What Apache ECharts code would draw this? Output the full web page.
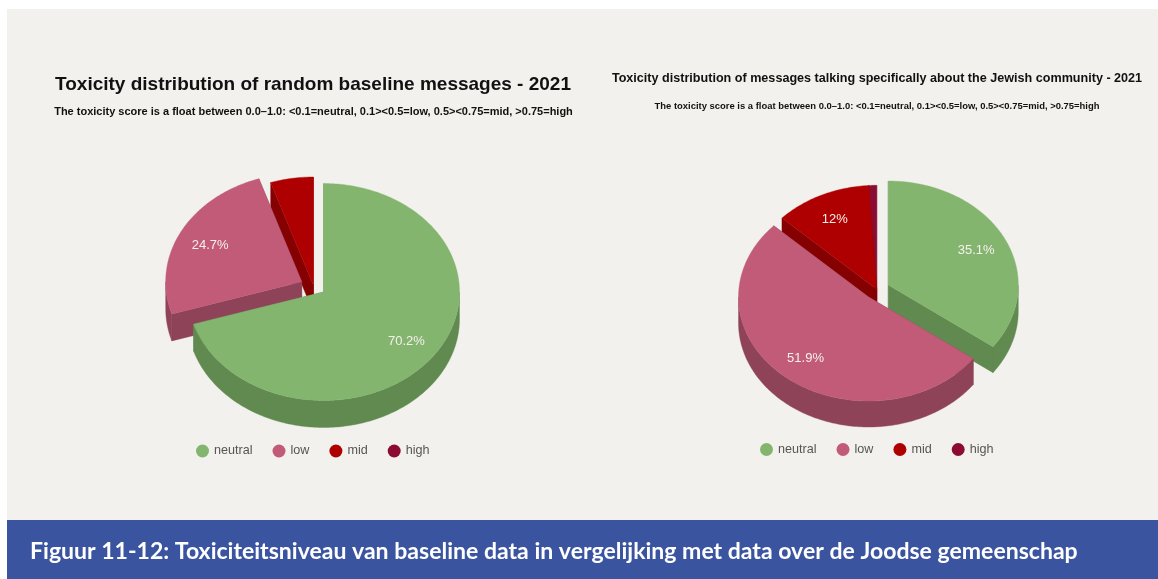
<!DOCTYPE html>
<html>
<head>
<meta charset="utf-8">
<style>html,body{margin:0;padding:0;background:#fff}#c{width:1158px;height:579px}</style>
<script src="https://cdn.jsdelivr.net/npm/echarts@6/dist/echarts.min.js"></script>
</head>
<body>
<div id="c"></div>
<script>
const categories = ['neutral', 'low', 'mid', 'high'];
const baselineValues = [70.2, 24.7, 5.1, 0];
const jewishValues = [35.1, 51.9, 12, 1];

const topColors = ['#84B56F', '#C25B78', '#AE0000', '#8C0B33'];
const sideColors = ['#618A50', '#8F4359', '#850000', '#66082A'];
const SANS = '"Liberation Sans", Arial, sans-serif';
const LABEL_MIN = 6;
const LABEL_RADIUS = 0.757;

const pieA = { values: baselineValues, cx: 323.5, cy: 292, rx: 136, ry: 108.5, depth: 27,
  shift: [[0, 0], [-21.8, -10.3], [-10, -6.5], [-10, -6.5]], order: [3, 2, 1, 0] };
const pieB = { values: jewishValues, cx: 868.5, cy: 297, rx: 130, ry: 104, depth: 26,
  shift: [[19.8, -12], [0, 0], [8.2, -7.7], [8.2, -7.7]], order: [3, 2, 0, 1] };

function arc(p, ox, oy, a0, a1, dy) {
  const n = Math.max(2, Math.ceil(Math.abs(a1 - a0) / (Math.PI / 180)));
  const pts = [];
  for (let i = 0; i <= n; i++) {
    const a = a0 + (a1 - a0) * i / n;
    pts.push([ox + p.rx * Math.sin(a), oy - p.ry * Math.cos(a) + dy]);
  }
  return pts;
}
function poly(points, fill) {
  return { type: 'polygon', shape: { points }, style: { fill, stroke: fill, lineWidth: 0.4 } };
}
function sliceRender(p, idx) {
  const total = p.values.reduce((s, v) => s + v, 0);
  const before = p.values.slice(0, idx).reduce((s, v) => s + v, 0);
  const a0 = before / total * 2 * Math.PI;
  const a1 = (before + p.values[idx]) / total * 2 * Math.PI;
  return function () {
    const children = [];
    if (p.values[idx] <= 0) return { type: 'group', children };
    const ox = p.cx + p.shift[idx][0], oy = p.cy + p.shift[idx][1];
    const side = sideColors[idx], top = topColors[idx];
    [a0, a1].forEach(function (a) {
      const e = arc(p, ox, oy, a, a, 0)[0];
      children.push(poly([[ox, oy], e, [e[0], e[1] + p.depth], [ox, oy + p.depth]], side));
    });
    const w0 = Math.max(a0, Math.PI / 2), w1 = Math.min(a1, 1.5 * Math.PI);
    if (w1 > w0) {
      children.push(poly(arc(p, ox, oy, w0, w1, 0).concat(arc(p, ox, oy, w1, w0, p.depth)), side));
    }
    children.push(poly([[ox, oy]].concat(arc(p, ox, oy, a0, a1, 0)), top));
    if (p.values[idx] >= LABEL_MIN) {
      const m = (a0 + a1) / 2;
      children.push({ type: 'text', z2: 10, style: {
        text: p.values[idx] + '%',
        x: ox + LABEL_RADIUS * p.rx * Math.sin(m),
        y: oy - LABEL_RADIUS * p.ry * Math.cos(m) + 1,
        fill: '#F4F0EC', font: '13px ' + SANS, align: 'center', verticalAlign: 'middle'
      } });
    }
    return { type: 'group', children };
  };
}
const series = [];
[pieA, pieB].forEach(function (p) {
  p.order.forEach(function (idx, k) {
    series.push({
      type: 'custom', name: categories[idx], coordinateSystem: 'none', z: 2 + k,
      silent: true, animation: false,
      itemStyle: { color: topColors[idx] },
      data: [[p.values[idx]]],
      renderItem: sliceRender(p, idx)
    });
  });
});

const legendBase = { data: categories, icon: 'circle', itemWidth: 13, itemHeight: 13, itemGap: 20,
  selectedMode: false, padding: 0, textStyle: { color: '#555555', fontSize: 12.6, fontFamily: SANS } };

const titleText = (text, x, y, size) => ({ text, left: x, top: y, textAlign: 'center', textVerticalAlign: 'middle',
  padding: 0, textStyle: { color: '#111111', fontWeight: 'bold', fontSize: size, fontFamily: SANS } });

const chart = echarts.init(document.getElementById('c'), null, { renderer: 'canvas' });
chart.setOption({
  animation: false,
  backgroundColor: '#FFFFFF',
  title: [
    titleText('Toxicity distribution of random baseline messages - 2021', 313, 85, 19),
    titleText('The toxicity score is a float between 0.0\u20131.0: <0.1=neutral, 0.1><0.5=low, 0.5><0.75=mid, >0.75=high', 313.5, 112, 11),
    titleText('Toxicity distribution of messages talking specifically about the Jewish community - 2021', 877, 78.5, 12.6),
    titleText('The toxicity score is a float between 0.0\u20131.0: <0.1=neutral, 0.1><0.5=low, 0.5><0.75=mid, >0.75=high', 877, 106.5, 9.45),
    { text: 'Figuur 11-12: Toxiciteitsniveau van baseline data in vergelijking met data over de Joodse gemeenschap',
      left: 30, top: 552, textVerticalAlign: 'middle', padding: 0,
      textStyle: { color: '#FFFFFF', fontWeight: 'bold', fontSize: 23.06, fontFamily: 'Lato, sans-serif' } }
  ],
  legend: [
    Object.assign({}, legendBase, { left: 196, top: 444.5 }),
    Object.assign({}, legendBase, { left: 760, top: 443 })
  ],
  graphic: [
    { type: 'rect', z: 0, silent: true, shape: { x: 7, y: 9, width: 1151, height: 511 }, style: { fill: '#F3F1EE' } },
    { type: 'rect', z: 0, silent: true, shape: { x: 30, y: 52, width: 555, height: 433 }, style: { fill: '#F2F1ED' } },
    { type: 'rect', z: 0, silent: true, shape: { x: 7, y: 520, width: 1151, height: 59 }, style: { fill: '#3A54A0' } }
  ],
  series
});
</script>
</body>
</html>
